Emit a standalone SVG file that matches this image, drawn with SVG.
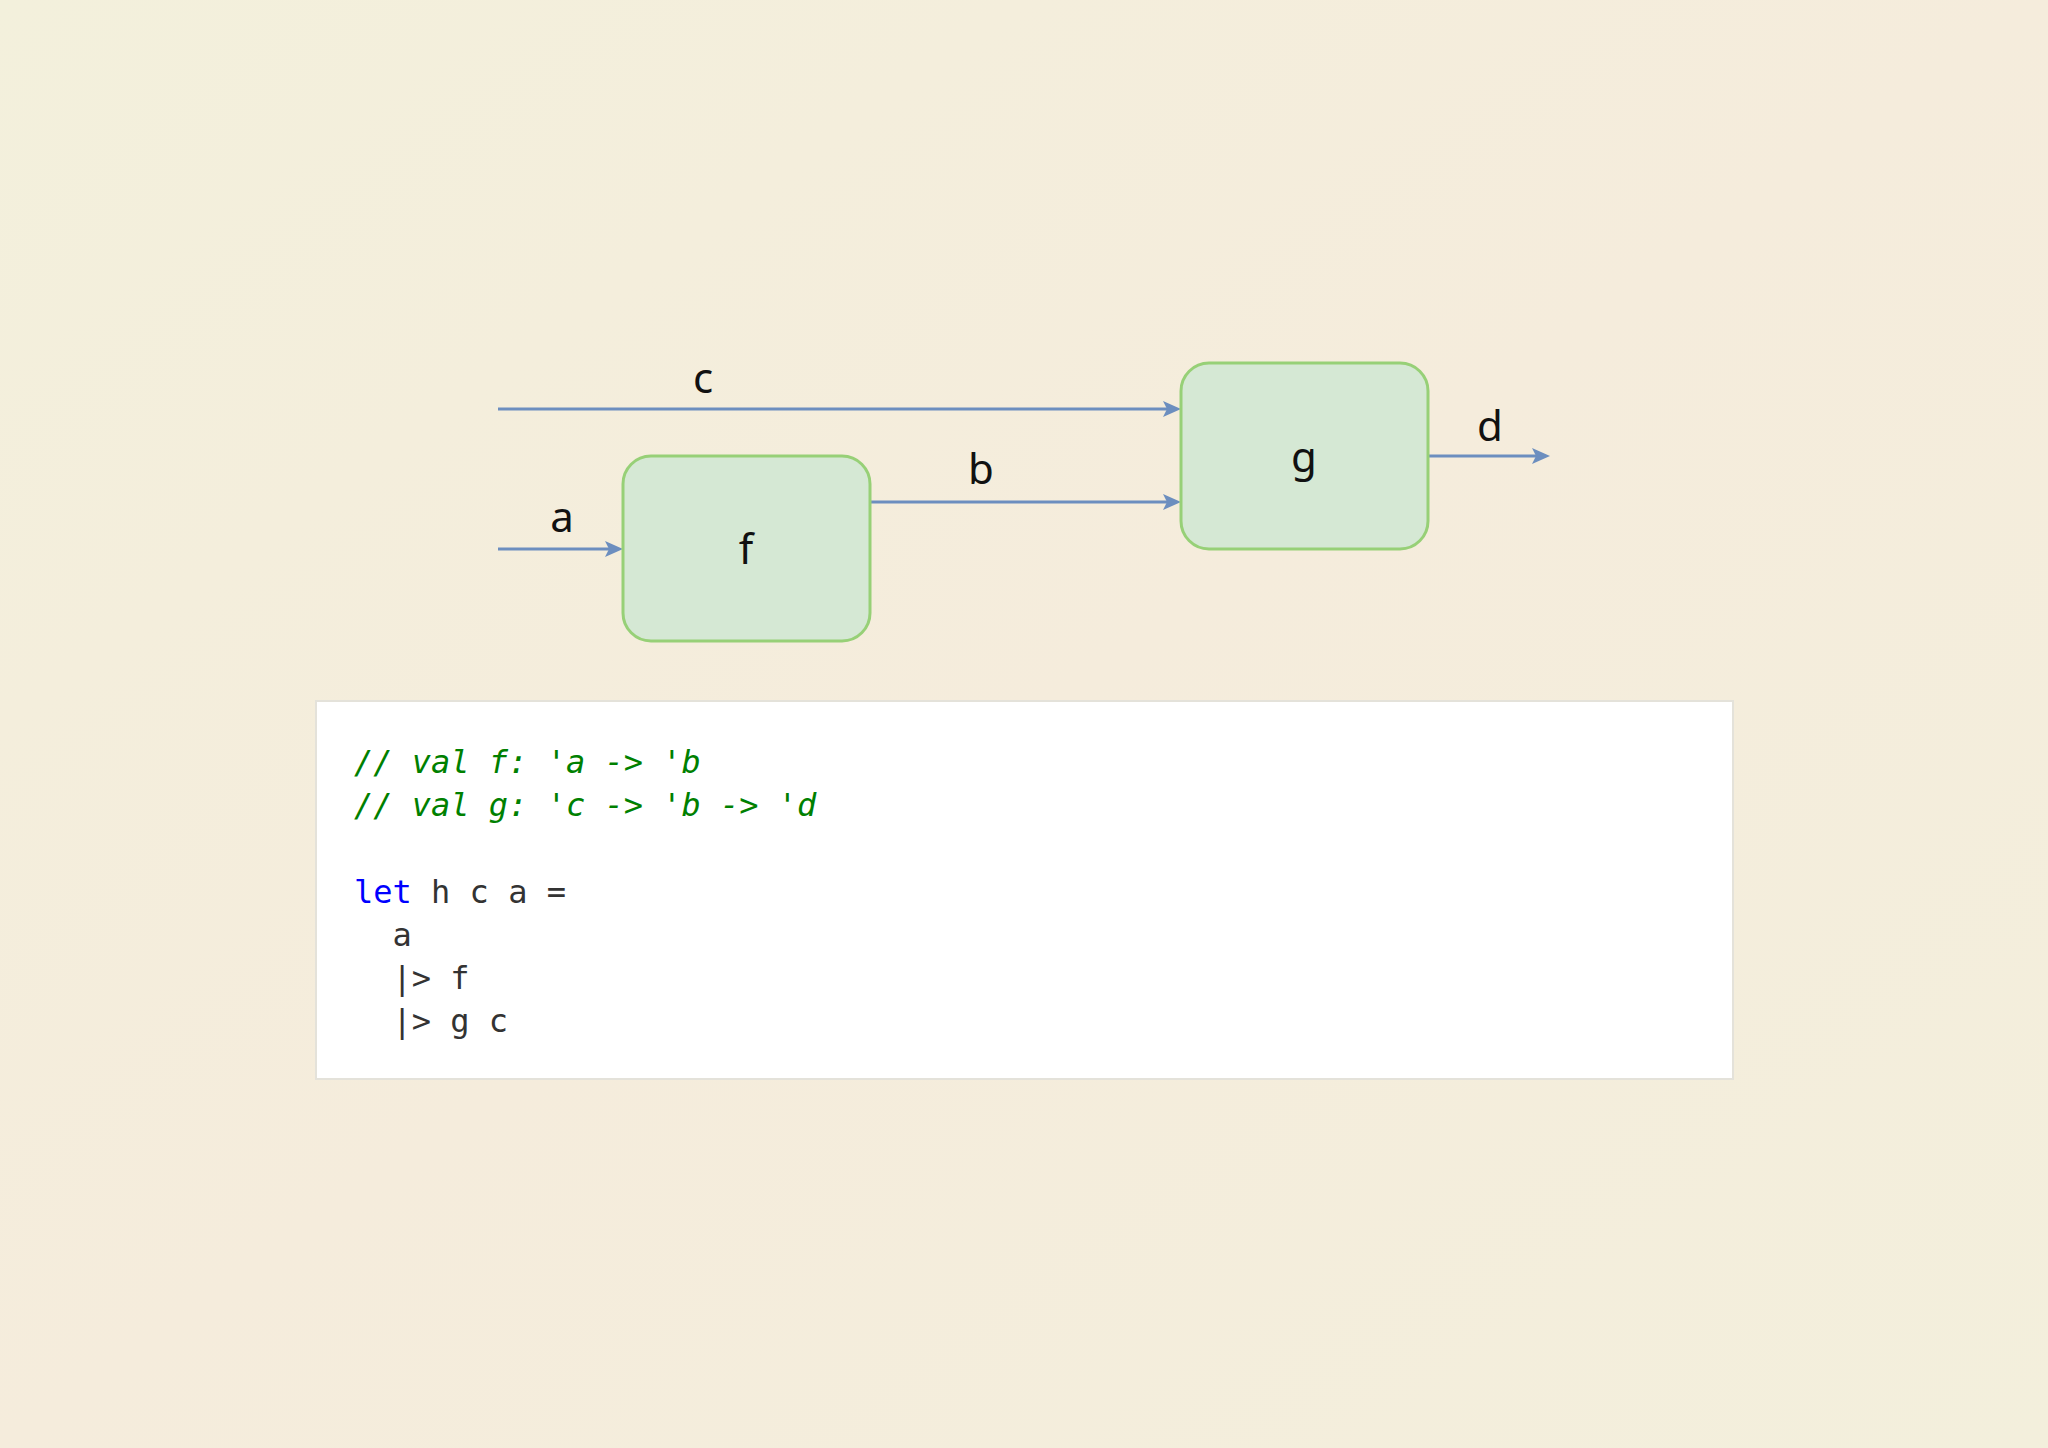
<svg xmlns="http://www.w3.org/2000/svg" width="2048" height="1448" viewBox="0 0 2048 1448">
<defs>
<linearGradient id="bg" x1="0" y1="0" x2="1" y2="1"><stop offset="0" stop-color="#f3f0dc"/><stop offset="0.5" stop-color="#f5ecdc"/><stop offset="1" stop-color="#f3efdc"/></linearGradient>
<marker id="ah" viewBox="0 0 10 10" refX="10" refY="5" markerWidth="5" markerHeight="5" orient="auto" markerUnits="userSpaceOnUse" style="overflow:visible"><path d="M0,0 L10,5 L0,10 L3,5 Z" fill="#6c8ebf" transform="scale(1.8) translate(-4.5,-2.2)"/></marker>
<style>
.box{fill:#d5e8d4;stroke:#97d077;stroke-width:3}
.lbl{font-family:"Noto Sans","Open Sans",sans-serif;font-size:42px;fill:#111;text-anchor:middle}
.edge{stroke:#6c8ebf;stroke-width:3;fill:none}
.code{font-family:"DejaVu Sans Mono","Liberation Mono",monospace;font-size:32px;fill:#333;white-space:pre}
.cm{fill:#008000;font-style:italic}
.kw{fill:#0000ff}
</style>
</defs>
<rect width="2048" height="1448" fill="url(#bg)"/>
<g id="connectors">
<line class="edge" x1="498" y1="409" x2="1170" y2="409"/><path d="M1163,401 L1181,409 L1163,417 L1167,409 Z" fill="#6c8ebf"/>
<line class="edge" x1="870" y1="502" x2="1170" y2="502"/><path d="M1163,494 L1181,502 L1163,510 L1167,502 Z" fill="#6c8ebf"/>
<line class="edge" x1="498" y1="549" x2="612" y2="549"/><path d="M605,541 L623,549 L605,557 L609,549 Z" fill="#6c8ebf"/>
<line class="edge" x1="1428" y1="456" x2="1539" y2="456"/><path d="M1532,448 L1550,456 L1532,464 L1536,456 Z" fill="#6c8ebf"/>
<text class="lbl" x="703" y="393">c</text>
<text class="lbl" x="981" y="484">b</text>
<text class="lbl" x="562" y="532">a</text>
<text class="lbl" x="1490" y="441">d</text>
</g>
<g id="node-f"><rect class="box" x="623" y="456" width="247" height="185" rx="28"/><text class="lbl" x="746" y="564">f</text></g>
<g id="node-g"><rect class="box" x="1181" y="363" width="247" height="186" rx="28"/><text class="lbl" x="1304" y="472">g</text></g>
<g id="code">
<rect x="316" y="701" width="1417" height="378" fill="#fff" stroke="#e4e2da" stroke-width="2"/>
<text class="code cm" x="354" y="773">// val f: 'a -&gt; 'b</text>
<text class="code cm" x="354" y="816">// val g: 'c -&gt; 'b -&gt; 'd</text>
<text class="code" x="354" y="903"><tspan class="kw">let</tspan> h c a =</text>
<text class="code" x="354" y="946">  a</text>
<text class="code" x="354" y="989">  |&gt; f</text>
<text class="code" x="354" y="1032">  |&gt; g c</text>
</g>
</svg>
